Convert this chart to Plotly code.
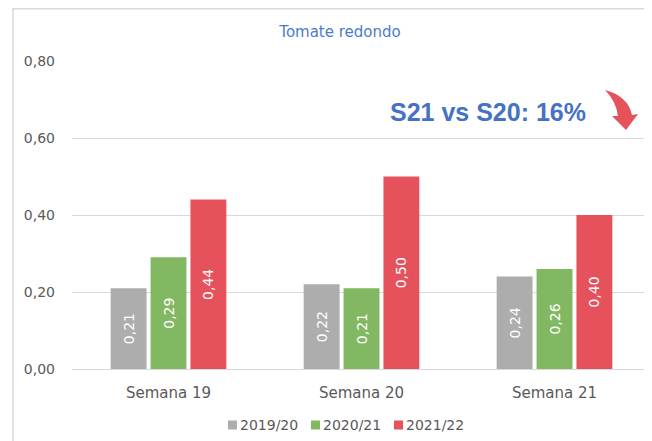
import plotly.graph_objects as go

categories = ["Semana 19", "Semana 20", "Semana 21"]
series_names = ["2019/20", "2020/21", "2021/22"]
v_2019_20 = [0.21, 0.22, 0.24]
v_2020_21 = [0.29, 0.21, 0.26]
v_2021_22 = [0.44, 0.50, 0.40]
y_ticks = [0.0, 0.2, 0.4, 0.6, 0.8]
title_text = "Tomate redondo"
note_text = "S21 vs S20: 16%"

colors = ["#ADADAD", "#82B862", "#E5525C"]
# page body has an 8px margin, so the figure is sized to fit the window
OFF = 8
W, H = 652 - OFF, 441 - OFF
L, R, T, B = 64, 1, 53, 72
PW, PH = W - L - R, H - T - B


def px(xr):
    # reference-window x pixel -> paper
    return (xr - OFF - L) / PW


def py(yr):
    # reference-window y pixel -> paper
    return (H - B - (yr - OFF)) / PH


fig = go.Figure()
for name, vals, c in zip(series_names, [v_2019_20, v_2020_21, v_2021_22], colors):
    fig.add_trace(go.Bar(
        x=categories, y=vals, name=name,
        marker=dict(color=c, line=dict(width=0)),
        text=[f"{v:.2f}".replace(".", ",") for v in vals],
        textposition="inside", insidetextanchor="middle", textangle=-90,
        textfont=dict(color="white", size=14, family="DejaVu Sans"),
        hoverinfo="skip", showlegend=False,
    ))

arrow = (f"M {px(605)},{py(90)} Q {px(628)},{py(96)} {px(632)},{py(115)} "
         f"L {px(638)},{py(114)} L {px(626)},{py(130)} L {px(612)},{py(116)} "
         f"L {px(618)},{py(116)} Q {px(616)},{py(101)} {px(605)},{py(90)} Z")

shapes = [
    dict(type="rect", xref="paper", yref="paper",
         x0=px(13), y0=py(700), x1=px(900), y1=py(8.75),
         line=dict(color="#D9D9D9", width=1.5), layer="below"),
    dict(type="path", xref="paper", yref="paper", path=arrow,
         fillcolor="#E5525C", line=dict(width=0)),
]
annotations = [
    dict(text=f"<b>{note_text}</b>", xref="paper", yref="paper",
         x=px(488), y=py(112), xanchor="center", yanchor="middle", showarrow=False,
         font=dict(size=25, color="#4472C4", family="Liberation Sans")),
]

# legend (square swatch + label)
leg_x = [228, 311, 394]
leg_y = 425
for lx, name, c in zip(leg_x, series_names, colors):
    shapes.append(dict(type="rect", xref="paper", yref="paper",
                       x0=px(lx), x1=px(lx + 9), y0=py(leg_y + 4.5), y1=py(leg_y - 4.5),
                       fillcolor=c, line=dict(width=0)))
    annotations.append(dict(text=name, xref="paper", yref="paper",
                            x=px(lx + 10), y=py(leg_y), xanchor="left", yanchor="middle",
                            showarrow=False,
                            font=dict(size=14, color="#595959", family="DejaVu Sans")))

fig.update_layout(
    width=W, height=H,
    margin=dict(l=L, r=R, t=T, b=B, pad=0),
    paper_bgcolor="white", plot_bgcolor="white",
    separators=",.",
    barmode="group", bargap=0.38, bargroupgap=0.1,
    font=dict(family="DejaVu Sans", color="#595959", size=14),
    title=dict(text=title_text, x=px(340), xref="paper", y=1 - (32 - OFF) / H, yanchor="middle",
               xanchor="center", font=dict(size=15, color="#4A7BD0", family="DejaVu Sans")),
    xaxis=dict(showgrid=False, showline=False, zeroline=False, ticks="",
               tickfont=dict(size=15, color="#595959"), ticklabelstandoff=13,
               range=[-0.5, 2.5]),
    yaxis=dict(range=[0, 0.8], tickvals=y_ticks, tickformat=".2f",
               showgrid=True, gridcolor="#D9D9D9", gridwidth=1,
               zeroline=True, zerolinecolor="#D9D9D9", zerolinewidth=1,
               showline=False, ticks="", ticklabelstandoff=16,
               tickfont=dict(size=14, color="#595959")),
    showlegend=False,
    shapes=shapes,
    annotations=annotations,
)

fig.write_html("out.html")
